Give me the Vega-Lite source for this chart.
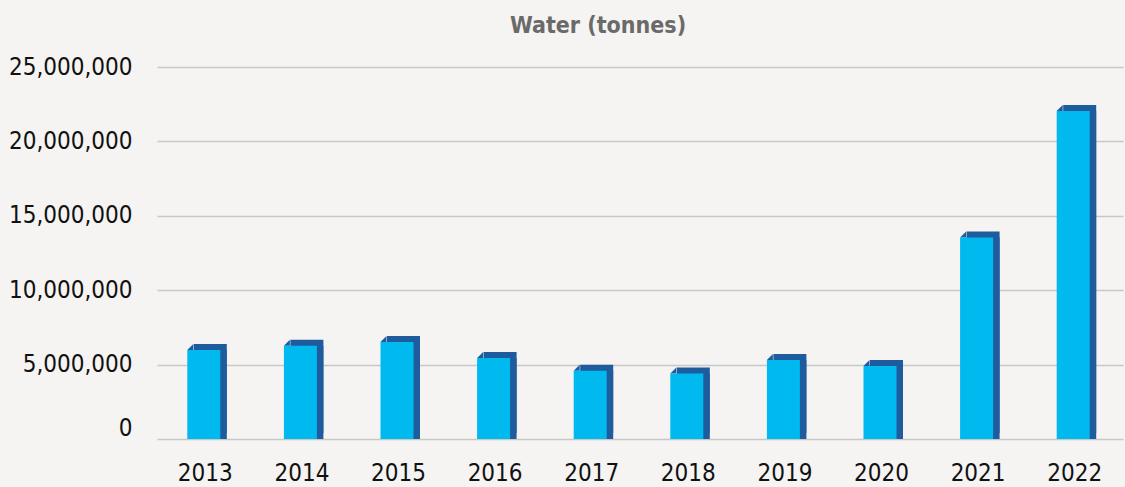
{
  "$schema": "https://vega.github.io/schema/vega-lite/v6.json",
  "width": 966,
  "height": 372,
  "autosize": "none",
  "padding": {"left": 157, "top": 67, "right": 2, "bottom": 48},
  "background": "#f5f4f2",
  "title": {
    "text": "Water (tonnes)",
    "font": "DejaVu Sans Condensed, Roboto, Liberation Sans",
    "fontSize": 23,
    "fontWeight": "bold",
    "color": "#6a6a6a",
    "anchor": "middle",
    "frame": "group",
    "dx": -42,
    "offset": 17
  },
  "config": {
    "view": {"stroke": null},
    "axis": {
      "labelFont": "DejaVu Sans Condensed, Roboto, Liberation Sans",
      "labelColor": "#111111",
      "labelFontSize": 24,
      "ticks": false,
      "domain": false,
      "title": null
    }
  },
  "data": {
    "values": [
      {"year": "2013", "value": 5980000},
      {"year": "2014", "value": 6270000},
      {"year": "2015", "value": 6520000},
      {"year": "2016", "value": 5440000},
      {"year": "2017", "value": 4580000},
      {"year": "2018", "value": 4400000},
      {"year": "2019", "value": 5310000},
      {"year": "2020", "value": 4900000},
      {"year": "2021", "value": 13540000},
      {"year": "2022", "value": 22040000}
    ]
  },
  "encoding": {
    "x": {
      "field": "year",
      "type": "nominal",
      "scale": {"paddingInner": 0, "paddingOuter": 0},
      "axis": {"labelAngle": 0, "labelPadding": 22, "grid": false}
    },
    "y": {
      "field": "value",
      "type": "quantitative",
      "scale": {"domain": [0, 25000000], "nice": false},
      "axis": {
        "values": [0, 5000000, 10000000, 15000000, 20000000, 25000000],
        "format": ",d",
        "labelPadding": 25,
        "labelOffset": {"condition": {"test": "datum.value === 0", "value": -11}, "value": 0},
        "grid": true,
        "gridColor": "#c8c8c8",
        "gridWidth": 1.6
      }
    }
  },
  "layer": [
    {
      "mark": {"type": "bar", "width": 33, "xOffset": 5, "yOffset": -6, "color": "#1f5c9e"}
    },
    {
      "mark": {"type": "bar", "width": 33, "xOffset": 5, "color": "#1f5c9e"}
    },
    {
      "mark": {"type": "point", "shape": "M -1 1 L 1 -1 L 1 1 Z", "size": 36, "filled": true, "opacity": 1, "strokeWidth": 0, "color": "#1f5c9e", "xOffset": -15, "yOffset": -3}
    },
    {
      "mark": {"type": "bar", "width": 33, "xOffset": -1.5, "color": "#00b9ef"}
    }
  ]
}
